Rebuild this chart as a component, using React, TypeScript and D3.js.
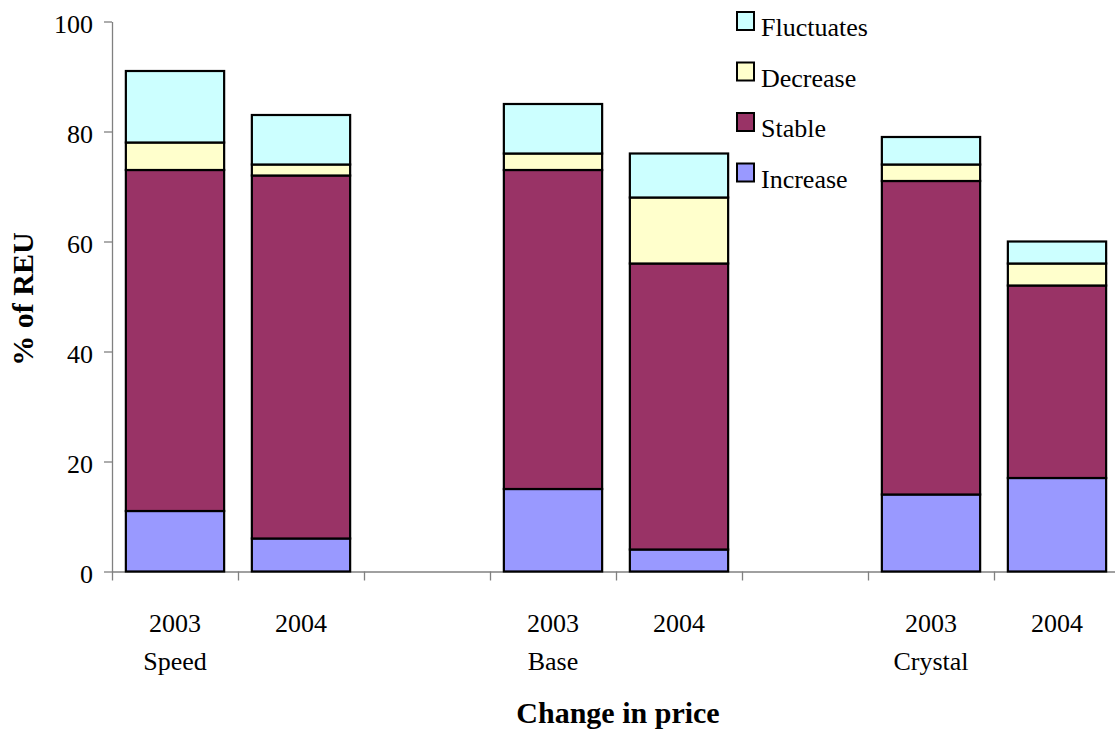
import React from "react";
import * as d3 from "d3";

// chart data
const groups = ["Speed", "Base", "Crystal"];
const years = ["2003", "2004"];
const seriesNames = ["Increase", "Stable", "Decrease", "Fluctuates"];
const increase = [11, 6, 15, 4, 14, 17];
const stable = [62, 66, 58, 52, 57, 35];
const decrease = [5, 2, 3, 12, 3, 4];
const fluctuates = [13, 9, 9, 8, 5, 4];
const yTicks = [0, 20, 40, 60, 80, 100];

const colors: Record<string, string> = {
  Increase: "#9999FF",
  Stable: "#993366",
  Decrease: "#FFFFCC",
  Fluctuates: "#CCFFFF",
};

const FONT = '"Liberation Serif", serif';

interface Row {
  slot: string;
  group: string;
  year: string;
  [key: string]: string | number;
}

const App = () => {
  const svgRef = React.useRef<SVGSVGElement>(null);
  const width = 1115;
  const height = 732;

  React.useEffect(() => {
    // build slots: each group has its years, plus an empty slot between groups
    const slots: string[] = [];
    const rows: Row[] = [];
    groups.forEach((g, gi) => {
      years.forEach((y, yi) => {
        const i = gi * years.length + yi;
        const key = `${g}-${y}`;
        slots.push(key);
        rows.push({
          slot: key,
          group: g,
          year: y,
          Increase: increase[i],
          Stable: stable[i],
          Decrease: decrease[i],
          Fluctuates: fluctuates[i],
        });
      });
      if (gi < groups.length - 1) slots.push(`gap-${gi}`);
    });

    const xScale = d3.scaleBand<string>()
      .domain(slots)
      .range([112, 1120])
      .paddingInner(0.22)
      .paddingOuter(0.11);
    const edgeScale = d3.scaleLinear()
      .domain([0, slots.length])
      .range([112, 1120]);
    const yScale = d3.scaleLinear()
      .domain([0, 100])
      .range([571.5, 21.5]);

    const svgEl = d3.select(svgRef.current);
    svgEl.selectAll("*").remove();
    const svg = svgEl.append("g").style("font-family", FONT);

    // Y axis
    const yAxis = d3.axisLeft(yScale)
      .tickValues(yTicks)
      .tickSize(8)
      .tickSizeOuter(0)
      .tickPadding(11);
    const yAxisGroup = svg.append("g")
      .attr("transform", "translate(112,0)")
      .call(yAxis)
      .attr("font-family", null)
      .attr("font-size", null);
    yAxisGroup.select(".domain").attr("stroke", "#808080").attr("stroke-width", 1.3);
    yAxisGroup.selectAll("line").attr("stroke", "#808080").attr("stroke-width", 1.3);
    yAxisGroup.selectAll("text")
      .attr("fill", "black")
      .style("font-size", "26px")
      .attr("dy", "0.42em");

    // X axis (ticks at slot edges, labels drawn separately)
    const xAxis = d3.axisBottom(edgeScale)
      .tickValues(d3.range(slots.length + 1))
      .tickSize(9)
      .tickSizeOuter(0)
      .tickFormat(() => "");
    const xAxisGroup = svg.append("g")
      .attr("transform", `translate(0,${yScale(0)})`)
      .call(xAxis);
    xAxisGroup.select(".domain").attr("stroke", "#808080").attr("stroke-width", 1.3);
    xAxisGroup.selectAll("line").attr("stroke", "#808080").attr("stroke-width", 1.3);

    // stacked bars
    const stack = d3.stack<Row>().keys(seriesNames);
    const stacked = stack(rows as any);
    svg.selectAll(".layer")
      .data(stacked)
      .enter()
      .append("g")
      .attr("fill", (d) => colors[d.key])
      .selectAll("rect")
      .data((d) => d)
      .enter()
      .append("rect")
      .attr("x", (d) => xScale((d.data as any).slot) as number)
      .attr("width", xScale.bandwidth())
      .attr("y", (d) => yScale(d[1]))
      .attr("height", (d) => yScale(d[0]) - yScale(d[1]))
      .attr("stroke", "black")
      .attr("stroke-width", 2.2);

    // category labels
    svg.selectAll(".yearLabel")
      .data(rows)
      .enter()
      .append("text")
      .attr("x", (d) => (xScale(d.slot) as number) + xScale.bandwidth() / 2)
      .attr("y", 632)
      .attr("text-anchor", "middle")
      .style("font-size", "26px")
      .text((d) => d.year);
    svg.selectAll(".groupLabel")
      .data(rows.filter((d) => d.year === years[0]))
      .enter()
      .append("text")
      .attr("x", (d) => (xScale(d.slot) as number) + xScale.bandwidth() / 2)
      .attr("y", 670)
      .attr("text-anchor", "middle")
      .style("font-size", "26px")
      .text((d) => d.group);

    // axis titles
    svg.append("text")
      .attr("x", 618)
      .attr("y", 723)
      .attr("text-anchor", "middle")
      .style("font-weight", "bold")
      .style("font-size", "30px")
      .text("Change in price");
    svg.append("text")
      .attr("transform", "translate(33,299) rotate(-90)")
      .attr("text-anchor", "middle")
      .style("font-weight", "bold")
      .style("font-size", "30px")
      .text("% of REU");

    // legend
    const legendItems = seriesNames.slice().reverse();
    const legend = svg.selectAll(".legend")
      .data(legendItems)
      .enter()
      .append("g")
      .attr("transform", (d, i) => `translate(737,${12 + i * 50.5})`);
    legend.append("rect")
      .attr("width", 17)
      .attr("height", 18)
      .attr("fill", (d) => colors[d])
      .attr("stroke", "black")
      .attr("stroke-width", 2);
    legend.append("text")
      .attr("x", 24)
      .attr("y", 24)
      .style("font-size", "26px")
      .text((d) => d);
  }, []);

  return (
    <svg
      ref={svgRef}
      width={width}
      height={height}
      style={{ position: "absolute", left: 0, top: 0, display: "block", background: "white" }}
    />
  );
};

export default App;
